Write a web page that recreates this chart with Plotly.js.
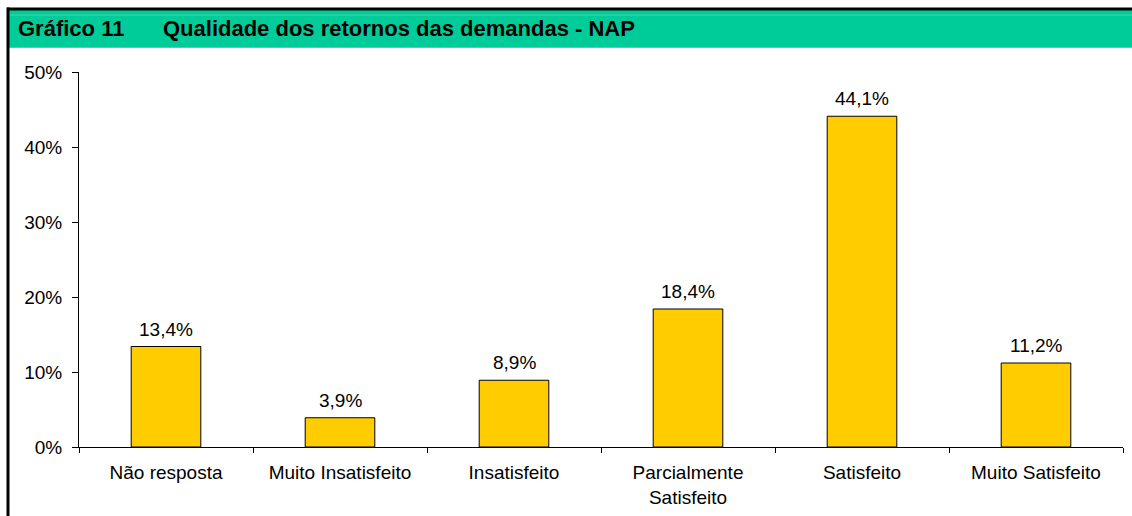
<!DOCTYPE html>
<html>
<head>
<meta charset="utf-8">
<script src="https://cdn.plot.ly/plotly-3.0.1.min.js"></script>
<style>html,body{margin:0;padding:0;background:#fff;}#chart{width:1132px;height:516px;}</style>
</head>
<body>
<div id="chart"></div>
<script>
const categories = ["Não resposta", "Muito Insatisfeito", "Insatisfeito", "Parcialmente<br>Satisfeito", "Satisfeito", "Muito Satisfeito"];
const values = [0.134, 0.039, 0.089, 0.184, 0.441, 0.112];
const valueLabels = ["13,4%", "3,9%", "8,9%", "18,4%", "44,1%", "11,2%"];
const yTickValues = [0, 0.1, 0.2, 0.3, 0.4, 0.5];
const headerLabel = "Gráfico 11";
const headerTitle = "Qualidade dos retornos das demandas - NAP";

const W = 1132, H = 516;
const L = 79, R = 9, T = 72, B = 69;
const pw = W - L - R, ph = H - T - B;
const px = x => (x - L) / pw;
const py = y => (H - B - y) / ph;

const font = "Arial, 'Liberation Sans', sans-serif";
const FS = 19;

const trace = {
  type: "bar",
  x: categories,
  y: values,
  width: 0.4,
  marker: {color: "#FFCC00", line: {color: "#000000", width: 1}},
  hoverinfo: "skip"
};

const labelAnnotations = categories.map((c, i) => ({
  xref: "x", yref: "y", x: c, y: values[i],
  xanchor: "center", yanchor: "bottom", yshift: 5,
  showarrow: false, text: valueLabels[i],
  font: {family: font, size: FS, color: "#000"}
}));

const layout = {
  width: W, height: H,
  margin: {l: L, r: R, t: T, b: B, pad: 0},
  paper_bgcolor: "#fff",
  plot_bgcolor: "#fff",
  separators: ",.",
  showlegend: false,
  font: {family: font, size: FS, color: "#000"},
  xaxis: {
    type: "category",
    showline: true, linecolor: "#000", linewidth: 1,
    ticks: "outside", tickson: "boundaries", ticklen: 5, tickcolor: "#000",
    ticklabelstandoff: 8,
    showgrid: false, zeroline: false,
    tickfont: {family: font, size: FS, color: "#000"},
    fixedrange: true
  },
  yaxis: {
    range: [0, 0.5],
    tickvals: yTickValues,
    tickformat: ".0%",
    showline: true, linecolor: "#000", linewidth: 1,
    ticks: "outside", ticklen: 6, tickcolor: "#000",
    ticklabelstandoff: 6,
    showgrid: false, zeroline: false,
    tickfont: {family: font, size: FS, color: "#000"},
    fixedrange: true
  },
  shapes: [
    {type: "rect", xref: "paper", yref: "paper", x0: px(9), x1: px(W + 5), y0: py(47), y1: py(10), fillcolor: "#00CC99", line: {width: 0}, layer: "below"},
    {type: "line", xref: "paper", yref: "paper", x0: px(9), x1: px(W + 5), y0: py(15), y1: py(15), line: {color: "#3FD9AC", width: 1}},
    {type: "line", xref: "paper", yref: "paper", x0: px(9), x1: px(W + 5), y0: py(47.5), y1: py(47.5), line: {color: "#3FD9AC", width: 1}},
    {type: "line", xref: "paper", yref: "paper", x0: px(7), x1: px(W + 5), y0: py(9), y1: py(9), line: {color: "#000", width: 3}},
    {type: "line", xref: "paper", yref: "paper", x0: px(8), x1: px(8), y0: py(H + 5), y1: py(7.5), line: {color: "#000", width: 3}}
  ],
  annotations: [
    {xref: "paper", yref: "paper", x: px(16), y: py(29), xanchor: "left", yanchor: "middle", showarrow: false, text: "<b>" + headerLabel + "</b>", font: {family: font, size: 22, color: "#000"}},
    {xref: "paper", yref: "paper", x: px(161), y: py(29), xanchor: "left", yanchor: "middle", showarrow: false, text: "<b>" + headerTitle + "</b>", font: {family: font, size: 22, color: "#000"}}
  ].concat(labelAnnotations)
};

Plotly.newPlot("chart", [trace], layout, {displayModeBar: false, staticPlot: true});
</script>
</body>
</html>
